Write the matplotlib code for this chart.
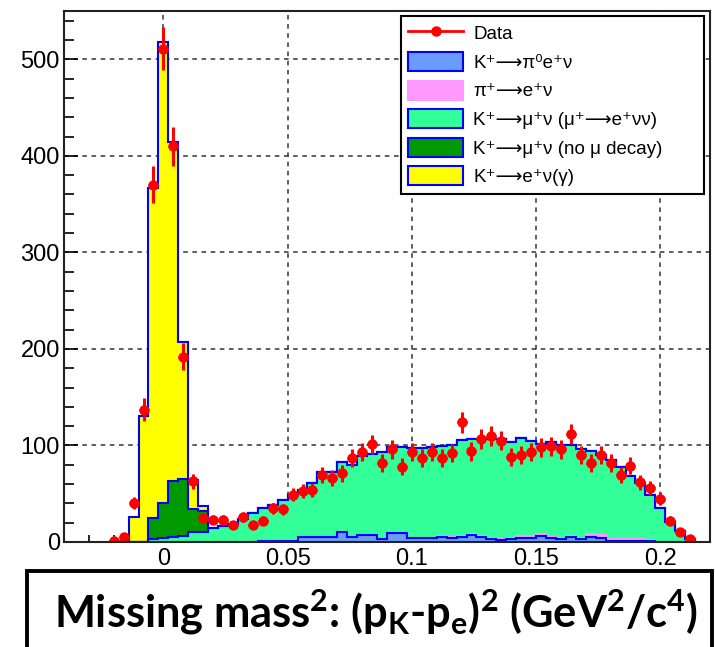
import numpy as np
import matplotlib
matplotlib.use("Agg")
import matplotlib.pyplot as plt
from matplotlib.ticker import MultipleLocator
from matplotlib.lines import Line2D
from matplotlib.patches import Patch, Rectangle

plt.rcParams['font.family'] = ['Liberation Sans', 'DejaVu Sans']
plt.rcParams['mathtext.fontset'] = 'custom'
plt.rcParams['mathtext.rm'] = 'Lato:bold'
plt.rcParams['mathtext.it'] = 'Lato:bold'
plt.rcParams['mathtext.bf'] = 'Lato:bold'

# ---- binning (59 bins of width 0.004, centred on multiples of 0.004) ----
bin_lo = -0.022
bin_width = 0.004
n_bins = 59

# ---- data (counts) ----
data = [1, 5, 40, 137, 370, 511, 410, 192, 63, 25,
        23, 23, 18, 26, 18, 22, 35, 34, 49, 53,
        54, 69, 66, 71, 87, 93, 101, 82, 96, 78,
        93, 87, 93, 87, 92, 124, 94, 107, 110, 105,
        88, 90, 93, 98, 99, 96, 112, 90, 82, 90,
        82, 69, 79, 62, 56, 45, 22, 10, 3]
data_err = [1.0, 2.2, 6.3, 11.7, 19.2, 22.6, 20.2, 13.9, 7.9, 5.0,
            4.8, 4.8, 4.2, 5.1, 4.2, 4.7, 5.9, 5.8, 7.0, 7.3,
            7.3, 8.3, 8.1, 8.4, 9.3, 9.6, 10.0, 9.1, 9.8, 8.8,
            9.6, 9.3, 9.6, 9.3, 9.6, 11.1, 9.7, 10.3, 10.5, 10.2,
            9.4, 9.5, 9.6, 9.9, 9.9, 9.8, 10.6, 9.5, 9.1, 9.5,
            9.1, 8.3, 8.9, 7.9, 7.5, 6.7, 4.7, 3.2, 1.7]

# ---- MC components (per bin, not stacked) ----
ke3 = ([0] * 15 + [1.5] * 4 + [5.5] * 4 +
       [10.5, 5, 7, 7, 3, 9.5, 9.5, 4.5, 4.5, 4.5, 5, 4, 5.5, 7, 5, 3, 2, 3,
        4, 4, 6, 4, 3, 5, 3, 5, 4, 1.5, 1.5, 1.5, 1, 1, 0.5, 0, 0, 0])
pie2 = ([0] * 33 + [1] * 8 + [2] * 3 + [1] * 4 + [3, 3] + [1.5] * 3 +
        [2, 1, 0, 0, 0, 0])
kmu2_mudecay = [0, 0, 0, 0, 3, 4, 5, 6, 10, 10,
                15, 16.5, 19, 24, 30, 34, 36.5, 42, 47.5, 48.5,
                55.5, 66.5, 67.5, 72.5, 75, 82, 83.7, 90.5, 89.2, 89.2,
                92.6, 93, 94, 93.7, 95, 99.5, 98.5, 100.5, 102.5, 103.5,
                100, 102, 99, 93, 99, 96, 94, 92, 86, 83,
                82, 75, 65, 58, 47, 34.5, 21, 11, 3]
kmu2_nodecay = [0, 0, 0, 0, 22, 36, 58, 59, 24, 22] + [0] * 49
ke2 = [0, 0, 26, 130, 342, 478, 351, 142, 30, 5] + [0] * 49

labels = ['Data', 'K⁺⟶π⁰e⁺ν', 'π⁺⟶e⁺ν', 'K⁺⟶μ⁺ν (μ⁺⟶e⁺νν)',
          'K⁺⟶μ⁺ν (no μ decay)', 'K⁺⟶e⁺ν(γ)']
colors = ['#6a9bff', '#ff99ff', '#33ff99', '#009900', '#ffff00']

xtick_vals = [0, 0.05, 0.1, 0.15, 0.2]
xtick_labels = ['0', '0.05', '0.1', '0.15', '0.2']
ytick_vals = [0, 100, 200, 300, 400, 500]

edges = bin_lo + bin_width * np.arange(n_bins + 1)
centers = 0.5 * (edges[:-1] + edges[1:])

fig = plt.figure(figsize=(7.15, 6.47), dpi=100)
ax = fig.add_axes([64 / 715, 105 / 647, 646 / 715, 531 / 647])

comps = [ke3, pie2, kmu2_mudecay, kmu2_nodecay, ke2]
stack = np.cumsum(np.array(comps, dtype=float), axis=0)
edgecols = ['#0000ff', '#ff99ff', '#0000ff', '#0000ff', '#0000ff']
for i in range(len(comps) - 1, -1, -1):
    ax.stairs(stack[i], edges, baseline=0, fill=True,
              facecolor=colors[i], edgecolor=edgecols[i], linewidth=1.5,
              zorder=2 + (len(comps) - i) * 0.1)

ax.errorbar(centers, data, yerr=data_err, xerr=bin_width / 2, fmt='o',
            color='#ff0000', ms=6.5, elinewidth=2.2, capsize=0, zorder=5)

ax.set_xlim(-0.04, 0.22)
ax.set_ylim(0, 550)
ax.set_xticks(xtick_vals)
ax.set_xticklabels(xtick_labels)
ax.set_yticks(ytick_vals)
ax.xaxis.set_minor_locator(MultipleLocator(0.01))
ax.yaxis.set_minor_locator(MultipleLocator(20))
ax.tick_params(which='both', direction='in', top=False, right=False,
               labelsize=17, color='black')
ax.tick_params(axis='x', which='major', length=11, width=1.2, pad=4)
ax.tick_params(axis='x', which='minor', length=5, width=1.2)
ax.tick_params(axis='y', which='major', length=10, width=1.2, pad=3)
ax.tick_params(axis='y', which='minor', length=7, width=1.2)
ax.set_axisbelow(True)
ax.grid(True, which='major', linestyle=(0, (3, 3)), color='#333333',
        linewidth=1.1)
for s in ax.spines.values():
    s.set_linewidth(1.5)
    s.set_color('#222222')
    s.set_zorder(6)

handles = [Line2D([], [], color='#ff0000', marker='o', ms=6.5, lw=2)]
for i in range(len(comps)):
    ec = '#0000ff' if i != 1 else colors[1]
    handles.append(Patch(facecolor=colors[i], edgecolor=ec, linewidth=1.5))
leg = ax.legend(handles, labels, loc='upper left',
                bbox_to_anchor=(337 / 646, 0.0, 303 / 646, 526 / 531),
                mode='expand', borderaxespad=0, fontsize=13.5,
                handlelength=2.93, handleheight=1.17, labelspacing=0.47,
                handletextpad=0.53, borderpad=0.4, fancybox=False,
                framealpha=1, edgecolor='black')
leg.get_frame().set_linewidth(1.5)
leg.set_zorder(7)

fig.patches.append(Rectangle((27 / 715, -0.05), 685 / 715, 0.05 + 76 / 647,
                             transform=fig.transFigure, fill=False,
                             edgecolor='black', linewidth=2.8))
fig.text(376 / 715, 35 / 647,
         r'Missing mass$^2$: (p$_K$-p$_e$)$^2$ (GeV$^2$/c$^4$)',
         ha='center', va='center', fontsize=31.2, family='Lato',
         fontweight='bold')

fig.savefig('out.png', dpi=100)
